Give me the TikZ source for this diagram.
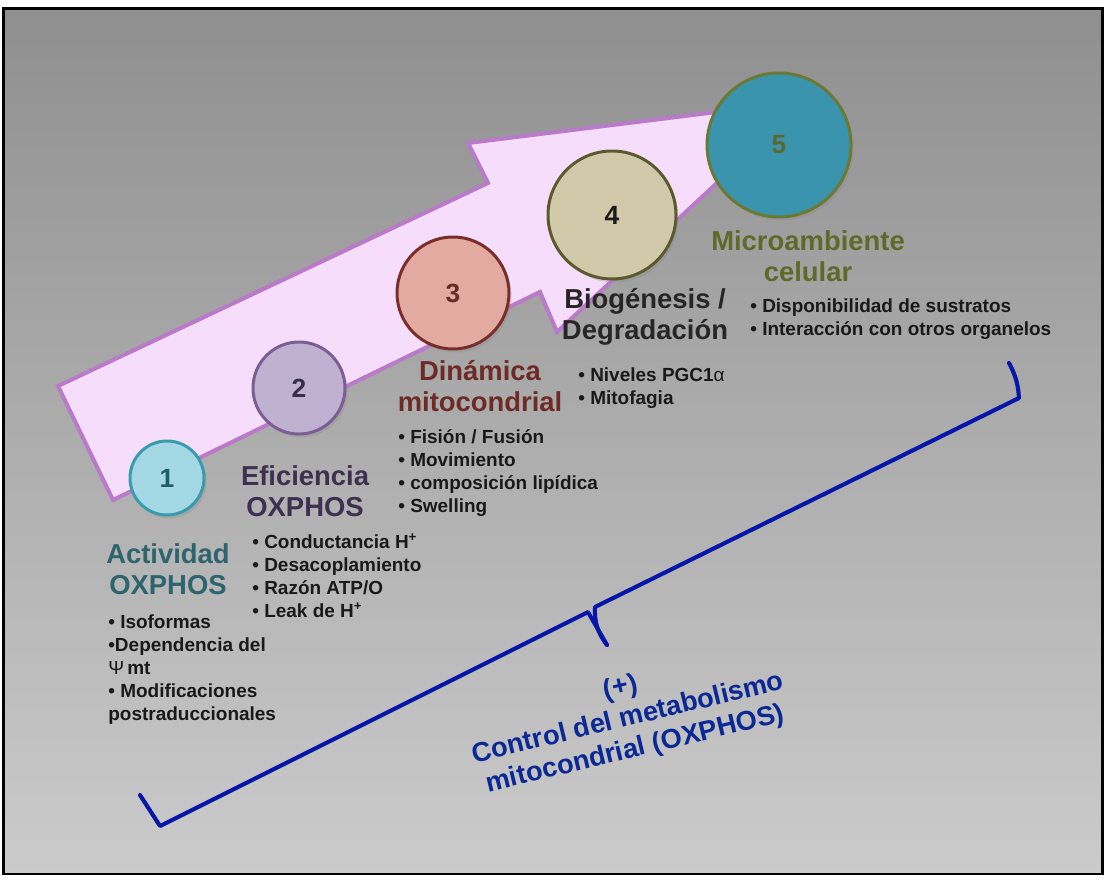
\documentclass[tikz,border=0pt]{standalone}
\usepackage{fontspec}
\setmainfont{Liberation Sans}
\usetikzlibrary{shadows}

\definecolor{fondoarriba}{RGB}{143,143,143}
\definecolor{fondoabajo}{RGB}{203,203,203}
\definecolor{flechafill}{HTML}{F6DDFC}
\definecolor{flechaline}{HTML}{B97AC8}
\definecolor{llaveazul}{HTML}{0716AA}
\definecolor{textoazul}{HTML}{0A2896}

\definecolor{cafill}{HTML}{A3D8E4} \definecolor{caline}{HTML}{3A9BAF} \definecolor{canum}{HTML}{1F5D68}
\definecolor{cbfill}{HTML}{C0B1D1} \definecolor{cbline}{HTML}{7B5E93} \definecolor{cbnum}{HTML}{3A2F4A}
\definecolor{ccfill}{HTML}{E3AAA1} \definecolor{ccline}{HTML}{7A2E2A} \definecolor{ccnum}{HTML}{6A2A25}
\definecolor{cdfill}{HTML}{D1C9A9} \definecolor{cdline}{HTML}{5B5A2E} \definecolor{cdnum}{HTML}{1A1A1A}
\definecolor{cefill}{HTML}{3A94AD} \definecolor{celine}{HTML}{6A7A35} \definecolor{cenum}{HTML}{5A6A30}

\definecolor{tituloa}{HTML}{2D646E}
\definecolor{titulob}{HTML}{3E3050}
\definecolor{tituloc}{HTML}{6E2A26}
\definecolor{titulod}{HTML}{262626}
\definecolor{tituloe}{HTML}{5E6A2A}

\begin{document}
\begin{tikzpicture}[
  paso/.style={circle, line width=1.7pt, inner sep=0pt,
    font=\fontsize{15}{18}\selectfont\bfseries,
    drop shadow={opacity=0.25, shadow xshift=0.05cm, shadow yshift=-0.07cm}},
  titulo/.style={align=center, inner sep=0pt, font=\fontsize{15.6}{17.6}\selectfont\bfseries},
  lista/.style={align=left, anchor=north west, inner sep=0pt, text=black!90,
    font=\fontsize{10.8}{13.1}\selectfont\bfseries},
  llave/.style={draw=llaveazul, line width=2.3pt, line join=round, line cap=round}
]

  \fill[white] (0cm,0cm) rectangle (22.12cm,17.6cm);  %Rand
  \shade[top color=fondoarriba, bottom color=fondoabajo] (0.07cm,0.12cm) rectangle (22.05cm,17.43cm);  %Fondo
  \draw[black, line width=1.6pt] (0.07cm,0.12cm) rectangle (22.05cm,17.43cm);  %Marco

  % flecha grande
  \draw[fill=flechafill, draw=flechaline, line width=2.3pt, line join=miter]
    (1.16cm,9.88cm) -- (9.76cm,13.94cm) -- (9.36cm,14.74cm) -- (16.10cm,15.58cm)
    -- (11.14cm,10.96cm) -- (10.80cm,11.76cm) -- (2.26cm,7.60cm) -- cycle;

  \foreach \n/\x/\y/\d/\c in {1/3.34/8.04/1.48/ca,  %\x,\y centro del circulo
                              2/5.98/9.84/1.84/cb,  %\d diametro
                              3/9.06/11.74/2.24/cc,
                              4/12.24/13.30/2.56/cd,
                              5/15.58/14.70/2.88/ce}
    {
     \node[paso, minimum size=\d cm, fill=\c fill, draw=\c line, text=\c num] (c\n) at (\x cm,\y cm) {\n};
    };

  % titulos de los pasos
  \node[titulo, text=tituloa] (t1) at (3.36cm,6.22cm) {Actividad\\OXPHOS};
  \node[titulo, text=titulob] (t2) at (6.10cm,7.78cm) {Eficiencia\\OXPHOS};
  \node[titulo, text=tituloc] (t3) at (9.60cm,9.88cm) {Dinámica\\mitocondrial};
  \node[titulo, text=titulod] (t4) at (12.90cm,11.26cm) {Biogénesis /\\Degradación};
  \node[titulo, text=tituloe] (t5) at (16.16cm,12.48cm) {Microambiente\\celular};

  % listas
  \node[lista] (l1) at (2.16cm,5.32cm) {• Isoformas\\•Dependencia del\\{\mdseries Ψ}\,mt\\• Modificaciones\\postraduccionales};
  \node[lista] (l2) at (5.04cm,6.94cm) {• Conductancia H\textsuperscript{+}\\• Desacoplamiento\\• Razón ATP/O\\• Leak de H\textsuperscript{+}};
  \node[lista] (l3) at (7.96cm,9.02cm) {• Fisión / Fusión\\• Movimiento\\• composición lipídica\\• Swelling};
  \node[lista] (l4) at (11.56cm,10.26cm) {• Niveles PGC1{\mdseries α}\\• Mitofagia};
  \node[lista] (l5) at (15.00cm,11.64cm) {• Disponibilidad de sustratos\\• Interacción con otros organelos};

  % llave
  \coordinate (b1) at (2.80cm,1.70cm);
  \coordinate (b2) at (3.20cm,1.08cm);
  \coordinate (b3) at (11.76cm,5.36cm);
  \coordinate (b4) at (12.14cm,4.70cm);  %punta
  \coordinate (b5) at (11.90cm,5.46cm);
  \coordinate (b6) at (20.38cm,9.64cm);
  \coordinate (b7) at (20.18cm,10.34cm);
  \begin{scope}[shift={(0.05cm,-0.07cm)}]  %sombra de la llave
    \draw[llave, draw=black, opacity=0.18] (b1) -- (b2) -- (b3) -- (b4) to[bend left=20] (b5) -- (b6) to[bend right=12] (b7);
  \end{scope}
  \draw[llave] (b1) -- (b2) -- (b3) -- (b4);
  \draw[llave] (b4) to[bend left=20] (b5) -- (b6) to[bend right=12] (b7);

  \node[align=center, rotate=13.5, text=textoazul, font=\fontsize{15.5}{18}\selectfont\bfseries]
    (ctrl) at (12.56cm,3.22cm) {(+)\\Control del metabolismo\\mitocondrial (OXPHOS)};

\end{tikzpicture}
\end{document}
